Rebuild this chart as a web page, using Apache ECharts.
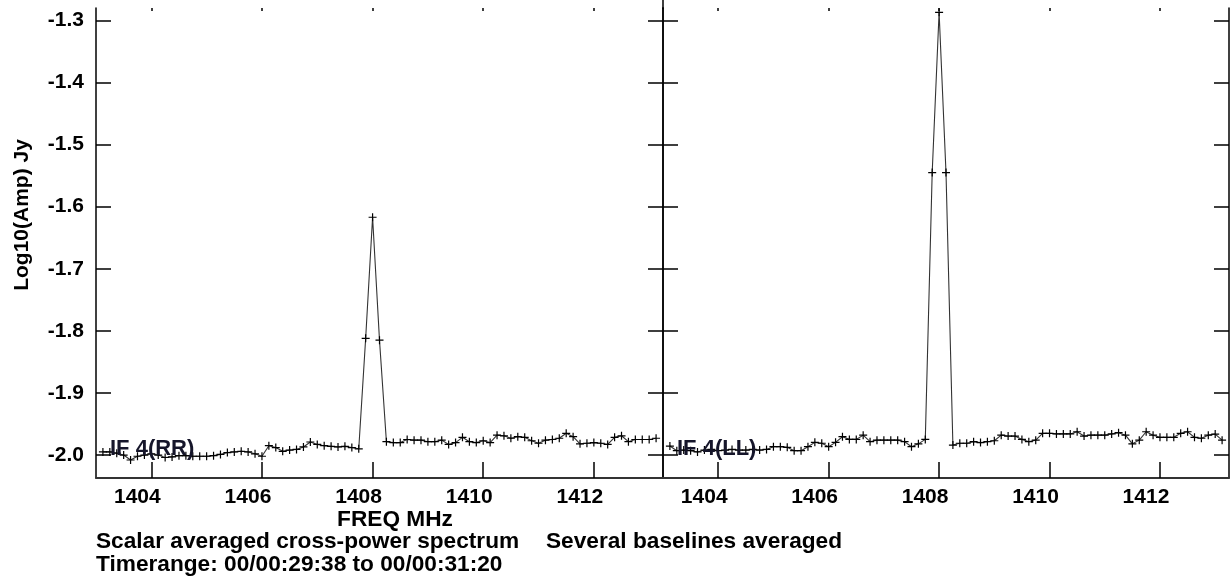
<!DOCTYPE html>
<html>
<head>
<meta charset="utf-8">
<script src="https://cdn.jsdelivr.net/npm/echarts@6/dist/echarts.min.js"></script>
<style>
  html, body { margin: 0; padding: 0; background: #fff; }
  #chart { width: 1230px; height: 581px; }
</style>
</head>
<body>
<div id="chart"></div>
<script>
// Channel frequencies (MHz)
const freqs = [
  1403.125, 1403.25, 1403.375, 1403.5, 1403.625, 1403.75, 1403.875, 1404.0,
  1404.125, 1404.25, 1404.375, 1404.5, 1404.625, 1404.75, 1404.875, 1405.0,
  1405.125, 1405.25, 1405.375, 1405.5, 1405.625, 1405.75, 1405.875, 1406.0,
  1406.125, 1406.25, 1406.375, 1406.5, 1406.625, 1406.75, 1406.875, 1407.0,
  1407.125, 1407.25, 1407.375, 1407.5, 1407.625, 1407.75, 1407.875, 1408.0,
  1408.125, 1408.25, 1408.375, 1408.5, 1408.625, 1408.75, 1408.875, 1409.0,
  1409.125, 1409.25, 1409.375, 1409.5, 1409.625, 1409.75, 1409.875, 1410.0,
  1410.125, 1410.25, 1410.375, 1410.5, 1410.625, 1410.75, 1410.875, 1411.0,
  1411.125, 1411.25, 1411.375, 1411.5, 1411.625, 1411.75, 1411.875, 1412.0,
  1412.125, 1412.25, 1412.375, 1412.5, 1412.625, 1412.75, 1412.875, 1413.0,
  1413.125
];

// IF 4 (RR) log10 amplitude
const ampRR = [
  -1.995, -1.995, -1.997, -2.000, -2.008, -2.002, -2.000, -1.998,
  -2.000, -2.004, -2.003, -2.001, -2.001, -2.002, -2.002, -2.002,
  -2.001, -1.999, -1.996, -1.995, -1.994, -1.995, -1.998, -2.002,
  -1.985, -1.988, -1.994, -1.992, -1.991, -1.987, -1.979, -1.983,
  -1.985, -1.986, -1.987, -1.986, -1.988, -1.990, -1.812, -1.617,
  -1.815, -1.9785, -1.980, -1.980, -1.975, -1.976, -1.976, -1.9785,
  -1.9785, -1.976, -1.983, -1.980, -1.9715, -1.9785, -1.980, -1.977,
  -1.980, -1.968, -1.969, -1.973, -1.9705, -1.9715, -1.977, -1.981,
  -1.976, -1.975, -1.973, -1.965, -1.9705, -1.982, -1.981, -1.980,
  -1.981, -1.983, -1.9715, -1.969, -1.9785, -1.975, -1.975, -1.975,
  -1.973
];

// IF 4 (LL) log10 amplitude
const ampLL = [
  -1.9855, -1.993, -1.992, -1.993, -1.995, -1.992, -1.991, -1.993,
  -1.992, -1.991, -1.992, -1.992, -1.991, -1.992, -1.991, -1.9866,
  -1.9866, -1.9876, -1.993, -1.993, -1.9866, -1.9796, -1.981, -1.9866,
  -1.9796, -1.9705, -1.9748, -1.9748, -1.968, -1.9785, -1.976, -1.976,
  -1.976, -1.976, -1.9785, -1.9866, -1.982, -1.9748, -1.545, -1.287,
  -1.545, -1.984, -1.981, -1.981, -1.9785, -1.980, -1.9785, -1.977,
  -1.968, -1.9694, -1.9694, -1.9748, -1.9785, -1.976, -1.965, -1.965,
  -1.966, -1.966, -1.966, -1.9625, -1.9694, -1.968, -1.968, -1.968,
  -1.966, -1.964, -1.968, -1.982, -1.976, -1.9625, -1.968, -1.9715,
  -1.9715, -1.9715, -1.965, -1.9625, -1.9715, -1.973, -1.968, -1.9662,
  -1.976
];

const xTickValues = [1404, 1406, 1408, 1410, 1412];
const yTickValues = [-2.0, -1.9, -1.8, -1.7, -1.6, -1.5, -1.4, -1.3];
const panelLabels = ['IF 4(RR)', 'IF 4(LL)'];
const xAxisTitle = 'FREQ MHz';
const yAxisTitle = 'Log10(Amp) Jy';
const footer1 = 'Scalar averaged cross-power spectrum';
const footer2 = 'Several baselines averaged';
const footer3 = 'Timerange: 00/00:29:38 to 00/00:31:20';

const FONT = '"Liberation Sans", Arial, sans-serif';
const X_MIN = 1403.0, X_MAX = 1413.25;
const Y_MIN = -2.037, Y_MAX = -1.28;

function bottomX(gi) {
  return {
    gridIndex: gi, type: 'value', min: X_MIN, max: X_MAX, position: 'bottom',
    axisLine: { show: true, lineStyle: { color: '#333', width: 2 } },
    axisTick: { show: true, inside: true, length: 16, customValues: xTickValues,
                lineStyle: { color: '#000', width: 1.5 } },
    axisLabel: { show: true, customValues: xTickValues, color: '#000', fontFamily: FONT,
                 fontWeight: 'bold', fontSize: 21, margin: 9, padding: [0, 28, 0, 0],
                 formatter: v => String(Math.round(v)) },
    splitLine: { show: false }
  };
}
function topX(gi) {
  return {
    gridIndex: gi, type: 'value', min: X_MIN, max: X_MAX, position: 'top',
    axisLine: { show: false },
    axisTick: { show: true, inside: true, length: 3, customValues: xTickValues,
                lineStyle: { color: '#000', width: 1.5 } },
    axisLabel: { show: false },
    splitLine: { show: false }
  };
}
function yAx(gi, pos, labels) {
  return {
    gridIndex: gi, type: 'value', min: Y_MIN, max: Y_MAX, position: pos,
    axisLine: { show: true, onZero: false, lineStyle: { color: '#000', width: 1.5 } },
    axisTick: { show: true, inside: true, length: 15, customValues: yTickValues,
                lineStyle: { color: '#000', width: 1.5 } },
    axisLabel: { show: labels, customValues: yTickValues, color: '#000', fontFamily: FONT,
                 fontWeight: 'bold', fontSize: 21, margin: 12, padding: [8, 0, 0, 0],
                 formatter: v => v.toFixed(1) },
    splitLine: { show: false }
  };
}

const crossSymbol = 'path://M0,5H10M5,0V10';
function spectrum(xi, yi, vals) {
  return {
    type: 'line', xAxisIndex: xi, yAxisIndex: yi,
    data: freqs.map((f, i) => [f, vals[i]]),
    symbol: crossSymbol, symbolSize: 8, showSymbol: true,
    itemStyle: { color: '#000', borderColor: '#000', borderWidth: 1.2 },
    lineStyle: { color: '#333', width: 1.1 },
    emphasis: { disabled: true }, silent: true, animation: false
  };
}

const textStyle = (txt, size) => ({ text: txt, fill: '#000', font: 'bold ' + size + 'px ' + FONT });

const option = {
  animation: false,
  backgroundColor: '#fff',
  grid: [
    { left: 96, top: 8, width: 567, height: 470 },
    { left: 663, top: 8, width: 566, height: 470 }
  ],
  xAxis: [bottomX(0), topX(0), bottomX(1), topX(1)],
  yAxis: [yAx(0, 'left', true), yAx(0, 'right', false), yAx(1, 'left', false), yAx(1, 'right', false)],
  series: [spectrum(0, 0, ampRR), spectrum(2, 2, ampLL)],
  graphic: [
    { type: 'line', shape: { x1: 663, y1: 0, x2: 663, y2: 9 }, style: { stroke: '#000', lineWidth: 1.5 } },
    { type: 'text', left: 110, top: 438, z: 100,
      style: { text: panelLabels[0], fill: '#15152a', font: 'bold 22px ' + FONT } },
    { type: 'text', left: 677, top: 438, z: 100,
      style: { text: panelLabels[1], fill: '#15152a', font: 'bold 22px ' + FONT } },
    { type: 'text', x: 395, y: 520, scaleX: 1.03,
      style: Object.assign(textStyle(xAxisTitle, 22), { align: 'center', verticalAlign: 'middle' }) },
    { type: 'text', x: 22, y: 215, rotation: Math.PI / 2,
      style: Object.assign(textStyle(yAxisTitle, 21), { align: 'center', verticalAlign: 'middle' }) },
    { type: 'text', x: 96, y: 542, scaleX: 1.03,
      style: Object.assign(textStyle(footer1, 22), { align: 'left', verticalAlign: 'middle' }) },
    { type: 'text', x: 546, y: 542, scaleX: 1.03,
      style: Object.assign(textStyle(footer2, 22), { align: 'left', verticalAlign: 'middle' }) },
    { type: 'text', x: 96, y: 565, scaleX: 1.03,
      style: Object.assign(textStyle(footer3, 22), { align: 'left', verticalAlign: 'middle' }) }
  ]
};

const chart = echarts.init(document.getElementById('chart'), null, { renderer: 'canvas' });
chart.setOption(option);
</script>
</body>
</html>
